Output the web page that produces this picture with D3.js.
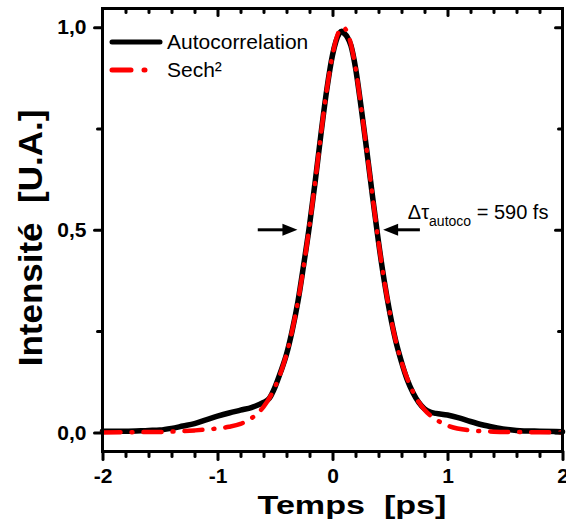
<!DOCTYPE html>
<html><head><meta charset="utf-8">
<script src="https://cdn.jsdelivr.net/npm/d3@7"></script>
<style>
html,body{margin:0;padding:0;background:#fff;}
svg{display:block;font-family:"Liberation Sans",Arial,sans-serif;}
</style></head>
<body><svg id="c" width="566" height="524"></svg>
<script>
// ---- data ----
const autoT = [-2.0,-1.8,-1.6,-1.5,-1.4,-1.3,-1.2,-1.1,-1.0,-0.9,-0.8,-0.7,-0.6,-0.55,-0.5,-0.45,-0.4,-0.35,-0.3,-0.25,-0.2,-0.15,-0.1,-0.05,0.0,0.03,0.06,0.08,0.1,0.13,0.16,0.2,0.25,0.3,0.35,0.4,0.45,0.5,0.55,0.6,0.65,0.7,0.75,0.8,0.85,0.9,1.0,1.1,1.2,1.3,1.4,1.5,1.6,1.8,2.0];
const autoI = [0.003,0.003,0.005,0.006,0.010,0.016,0.022,0.031,0.040,0.048,0.055,0.062,0.074,0.084,0.112,0.150,0.193,0.252,0.324,0.415,0.511,0.620,0.737,0.845,0.931,0.965,0.985,0.990,0.985,0.975,0.955,0.900,0.800,0.691,0.578,0.470,0.374,0.293,0.226,0.174,0.130,0.098,0.074,0.058,0.050,0.047,0.043,0.036,0.027,0.019,0.013,0.008,0.005,0.003,0.002];
const sechT = [-2.0,-1.6,-1.4,-1.2,-1.0,-0.9,-0.8,-0.7,-0.6,-0.5,-0.45,-0.4,-0.35,-0.3,-0.25,-0.2,-0.15,-0.1,-0.05,0.0,0.05,0.09,0.13,0.2,0.25,0.3,0.35,0.4,0.45,0.5,0.55,0.6,0.65,0.7,0.8,0.9,1.0,1.2,1.4,1.6,2.0];
const sechI = [0.000,0.001,0.002,0.005,0.010,0.014,0.021,0.036,0.063,0.112,0.148,0.193,0.252,0.324,0.411,0.511,0.620,0.737,0.845,0.931,0.986,1.000,0.986,0.900,0.800,0.691,0.578,0.470,0.374,0.293,0.226,0.174,0.133,0.100,0.056,0.032,0.017,0.005,0.002,0.001,0.000];
const xMajor = [-2,-1,0,1,2];
const xMinor = [-1.8,-1.6,-1.4,-1.2,-0.8,-0.6,-0.4,-0.2,0.2,0.4,0.6,0.8,1.2,1.4,1.6,1.8];
const yMajor = [0,0.5,1];
const yMinor = [0.25,0.75];
const seriesNames = ["Autocorrelation","Sech²"];
const xTitle = "Temps  [ps]";
const yTitle = "Intensité  [U.A.]";
const fwhmLabel = {main:"Δτ", sub:"autoco", rest:" = 590 fs"};
const arrowL = {from:-0.65, to:-0.305, y:0.5};
const arrowR = {from:0.76, to:0.44, y:0.5};
const labelPos = {t:0.655, y:0.526};

// ---- layout ----
const L=102.5, R=562.5, T=8.5, B=451.5;
const x = d3.scaleLinear().domain([-2,2]).range([L,R]);
const y = d3.scaleLinear().domain([-0.047,1.046]).range([B,T]);
const svg = d3.select("#c");
const fmtX = d => String(d);
const fmtY = d => d3.format(".1f")(d).replace(".",",").replace("−","-");

// curves
const line = d3.line().x(d=>x(d[0])).y(d=>y(d[1])).curve(d3.curveMonotoneX);
const autoData = autoT.map((t,i)=>[t,autoI[i]]);
const sechData = sechT.map((t,i)=>[t,sechI[i]]);
svg.append("path").attr("d",line(autoData)).attr("fill","none").attr("stroke","#000")
  .attr("stroke-width",5.5).attr("stroke-linejoin","round").attr("stroke-linecap","round");
svg.append("path").attr("d",line(sechData)).attr("fill","none").attr("stroke","#ff0000")
  .attr("stroke-width",4.5).attr("stroke-dasharray","18,11,1,11").attr("stroke-linecap","round");

// axes
function styleAxis(g){
  g.select(".domain").remove();
  g.selectAll(".tick line").attr("stroke","#000").attr("stroke-width",3).attr("stroke-linecap","round");
  g.selectAll(".tick text").attr("font-weight","bold").attr("font-size",21).attr("fill","#000")
    .attr("font-family","'Liberation Sans',Arial,sans-serif");
}
// bottom
svg.append("g").attr("transform",`translate(0,${B})`)
  .call(d3.axisBottom(x).tickValues(xMajor).tickSize(8).tickPadding(9).tickFormat(fmtX)).call(styleAxis);
svg.append("g").attr("transform",`translate(0,${B})`)
  .call(d3.axisBottom(x).tickValues(xMinor).tickSize(5).tickFormat("")).call(styleAxis);
// top (inward)
svg.append("g").attr("transform",`translate(0,${T})`)
  .call(d3.axisTop(x).tickValues(xMajor.slice(1,-1)).tickSize(-7).tickFormat("")).call(styleAxis);
svg.append("g").attr("transform",`translate(0,${T})`)
  .call(d3.axisTop(x).tickValues(xMinor).tickSize(-4).tickFormat("")).call(styleAxis);
// left
svg.append("g").attr("transform",`translate(${L},0)`)
  .call(d3.axisLeft(y).tickValues(yMajor).tickSize(8).tickPadding(8).tickFormat(fmtY)).call(styleAxis);
svg.append("g").attr("transform",`translate(${L},0)`)
  .call(d3.axisLeft(y).tickValues(yMinor).tickSize(5).tickFormat("")).call(styleAxis);
// right (inward)
svg.append("g").attr("transform",`translate(${R},0)`)
  .call(d3.axisRight(y).tickValues(yMajor).tickSize(-7).tickFormat("")).call(styleAxis);
svg.append("g").attr("transform",`translate(${R},0)`)
  .call(d3.axisRight(y).tickValues(yMinor).tickSize(-4).tickFormat("")).call(styleAxis);

// frame
svg.append("rect").attr("x",L).attr("y",T).attr("width",R-L).attr("height",B-T)
  .attr("fill","none").attr("stroke","#000").attr("stroke-width",3);

// axis titles
svg.append("text").attr("transform","translate(352,514) scale(1.1,0.85)").attr("text-anchor","middle")
  .attr("font-weight","bold").attr("font-size",31)
  .style("white-space","pre").text(xTitle);
svg.append("text").attr("transform","translate(42,238) rotate(-90) scale(1,0.94)").attr("text-anchor","middle")
  .attr("font-weight","bold").attr("font-size",35).style("white-space","pre").text(yTitle);

// legend
const lg = svg.append("g");
lg.append("line").attr("x1",112).attr("x2",160).attr("y1",42).attr("y2",42)
  .attr("stroke","#000").attr("stroke-width",5).attr("stroke-linecap","round");
lg.append("line").attr("x1",112).attr("x2",160).attr("y1",70).attr("y2",70)
  .attr("stroke","#ff0000").attr("stroke-width",5).attr("stroke-dasharray","19,13,1,20").attr("stroke-linecap","round");
lg.append("text").attr("x",167).attr("y",49).attr("font-size",21).text(seriesNames[0]);
lg.append("text").attr("x",167).attr("y",77).attr("font-size",21).text(seriesNames[1]);

// arrows
function arrow(a){
  const x1=x(a.from), x2=x(a.to), yy=y(a.y);
  const dir = Math.sign(x2-x1);
  svg.append("line").attr("x1",x1).attr("x2",x2-dir*10).attr("y1",yy).attr("y2",yy)
    .attr("stroke","#000").attr("stroke-width",3);
  svg.append("path").attr("d",`M${x2},${yy} L${x2-dir*15},${yy-6} L${x2-dir*15},${yy+6} Z`).attr("fill","#000");
}
arrow(arrowL); arrow(arrowR);

// annotation
const at = svg.append("text").attr("x",x(labelPos.t)).attr("y",y(labelPos.y)).attr("font-size",20);
at.append("tspan").text(fwhmLabel.main);
at.append("tspan").attr("font-size",14).attr("dy",7).text(fwhmLabel.sub);
at.append("tspan").attr("dy",-7).text(fwhmLabel.rest);
</script></body></html>
